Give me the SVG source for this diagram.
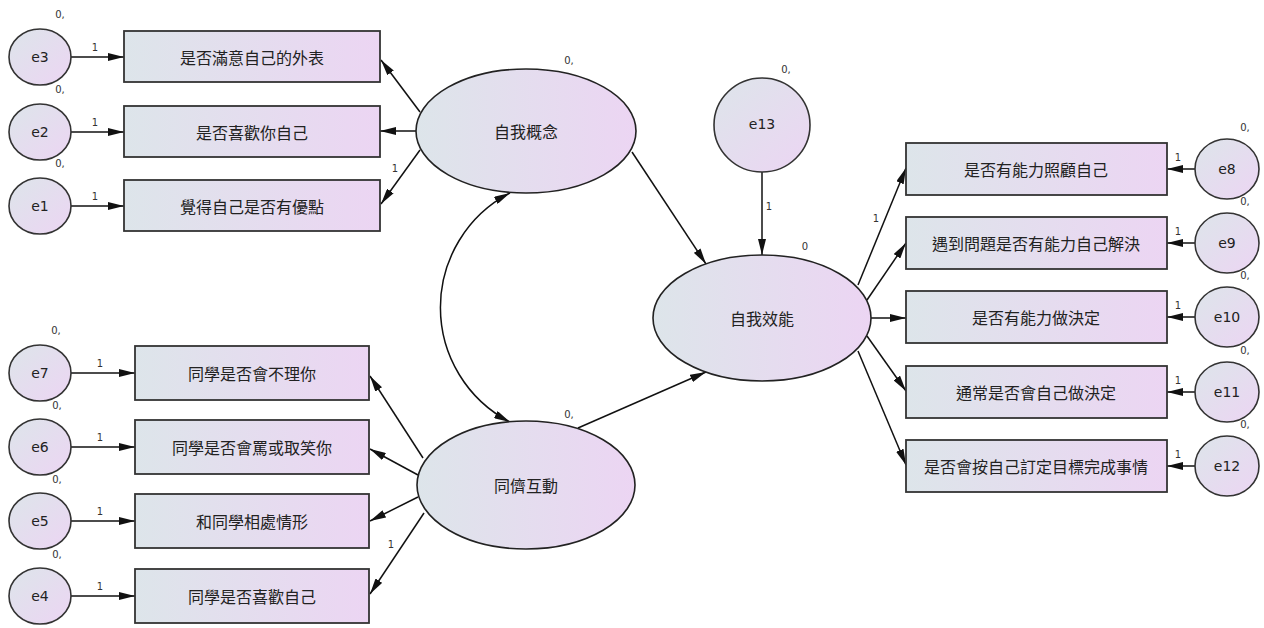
<svg xmlns="http://www.w3.org/2000/svg" width="1264" height="628" viewBox="0 0 1264 628">
<defs>
<linearGradient id="gh" x1="0" y1="0" x2="1" y2="0">
<stop offset="0" stop-color="#dde5ea"/>
<stop offset="1" stop-color="#ecd5f3"/>
</linearGradient>
<linearGradient id="gd" x1="0" y1="0" x2="1" y2="1">
<stop offset="0" stop-color="#dde5ea"/>
<stop offset="1" stop-color="#ecd5f3"/>
</linearGradient>
<marker id="ah" viewBox="0 0 16 8" refX="16" refY="4" markerWidth="16" markerHeight="8" markerUnits="userSpaceOnUse" orient="auto-start-reverse">
<path d="M0,0 L16,4 L0,8 z" fill="#111"/>
</marker>
</defs>
<style>
.box{fill:url(#gh);stroke:#333;stroke-width:1.8}
.lat{fill:url(#gh);stroke:#222;stroke-width:1.6}
.err{fill:url(#gd);stroke:#333;stroke-width:1.6}
.t{font-family:"Noto Sans CJK TC","Noto Sans CJK SC",sans-serif;font-size:16px;fill:#222;text-anchor:middle;dominant-baseline:central}
.te{font-family:"DejaVu Sans",Verdana,sans-serif;font-size:14px;fill:#222;text-anchor:middle;dominant-baseline:central}
.s{font-family:"DejaVu Sans",Verdana,sans-serif;font-size:10px;fill:#333;text-anchor:middle}
#edges line,#edges path{stroke:#111;stroke-width:1.5;fill:none;marker-end:url(#ah)}
</style>
<rect width="1264" height="628" fill="#fff"/>

<g id="edges">
<line x1="71" y1="57" x2="124" y2="57"/>
<line x1="71" y1="132" x2="124" y2="132"/>
<line x1="71" y1="206" x2="124" y2="206"/>
<line x1="71" y1="373" x2="135" y2="373"/>
<line x1="71" y1="447" x2="135" y2="447"/>
<line x1="71" y1="521" x2="135" y2="521"/>
<line x1="71" y1="596" x2="135" y2="596"/>
<line x1="1195" y1="169" x2="1167" y2="169"/>
<line x1="1195" y1="243" x2="1167" y2="243"/>
<line x1="1195" y1="317" x2="1167" y2="317"/>
<line x1="1195" y1="392" x2="1167" y2="392"/>
<line x1="1195" y1="466" x2="1167" y2="466"/>
<line x1="420" y1="112" x2="381" y2="60"/>
<line x1="416" y1="131" x2="380" y2="131"/>
<line x1="420" y1="150" x2="381" y2="204"/>
<line x1="423" y1="458" x2="370" y2="376"/>
<line x1="418" y1="475" x2="370" y2="449"/>
<line x1="418" y1="497" x2="370" y2="521"/>
<line x1="424" y1="513" x2="370" y2="594"/>
<line x1="858" y1="285" x2="906" y2="168"/>
<line x1="867" y1="300" x2="906" y2="243"/>
<line x1="871" y1="318" x2="906" y2="318"/>
<line x1="867" y1="336" x2="906" y2="391"/>
<line x1="858" y1="351" x2="906" y2="465"/>
<line x1="632" y1="152" x2="706" y2="264"/>
<line x1="578" y1="428" x2="706" y2="372"/>
<line x1="762" y1="172" x2="762" y2="255"/>
<path d="M510,193 A129,129 0 0 0 510,422" style="marker-start:url(#ah)"/>
<g class="s">
<text x="95" y="51">1</text>
<text x="95" y="126">1</text>
<text x="95" y="200">1</text>
<text x="100" y="367">1</text>
<text x="100" y="441">1</text>
<text x="100" y="515">1</text>
<text x="100" y="590">1</text>
<text x="1178" y="161">1</text>
<text x="1178" y="235">1</text>
<text x="1178" y="309">1</text>
<text x="1178" y="384">1</text>
<text x="1178" y="458">1</text>
<text x="395" y="172">1</text>
<text x="391" y="548">1</text>
<text x="876" y="222">1</text>
<text x="769" y="210">1</text>
</g>
</g>

<g id="e3"><ellipse class="err" cx="40" cy="57" rx="31" ry="28"/><text class="te" x="40" y="57">e3</text><text class="s" x="60" y="18">0,</text></g>
<g id="e2"><ellipse class="err" cx="40" cy="132" rx="31" ry="28"/><text class="te" x="40" y="132">e2</text><text class="s" x="60" y="93">0,</text></g>
<g id="e1"><ellipse class="err" cx="40" cy="206" rx="31" ry="28"/><text class="te" x="40" y="206">e1</text><text class="s" x="60" y="167">0,</text></g>
<g id="e7"><ellipse class="err" cx="40" cy="373" rx="31" ry="28"/><text class="te" x="40" y="373">e7</text><text class="s" x="56" y="334">0,</text></g>
<g id="e6"><ellipse class="err" cx="40" cy="447" rx="31" ry="28"/><text class="te" x="40" y="447">e6</text><text class="s" x="57" y="409">0,</text></g>
<g id="e5"><ellipse class="err" cx="40" cy="521" rx="31" ry="28"/><text class="te" x="40" y="521">e5</text><text class="s" x="57" y="483">0,</text></g>
<g id="e4"><ellipse class="err" cx="40" cy="596" rx="31" ry="28"/><text class="te" x="40" y="596">e4</text><text class="s" x="57" y="558">0,</text></g>

<g id="x3"><rect class="box" x="124" y="31" width="256" height="51"/><text class="t" x="252" y="57">是否滿意自己的外表</text></g>
<g id="x2"><rect class="box" x="124" y="106" width="256" height="51"/><text class="t" x="252" y="132">是否喜歡你自己</text></g>
<g id="x1"><rect class="box" x="124" y="180" width="256" height="51"/><text class="t" x="252" y="206">覺得自己是否有優點</text></g>
<g id="x7"><rect class="box" x="135" y="346" width="234" height="54"/><text class="t" x="252" y="373">同學是否會不理你</text></g>
<g id="x6"><rect class="box" x="135" y="420" width="234" height="54"/><text class="t" x="252" y="447">同學是否會罵或取笑你</text></g>
<g id="x5"><rect class="box" x="135" y="494" width="234" height="54"/><text class="t" x="252" y="521">和同學相處情形</text></g>
<g id="x4"><rect class="box" x="135" y="569" width="234" height="54"/><text class="t" x="252" y="596">同學是否喜歡自己</text></g>

<g id="selfconcept"><ellipse class="lat" cx="526" cy="131" rx="110" ry="62"/><text class="t" x="526" y="131">自我概念</text><text class="s" x="569" y="64">0,</text></g>
<g id="peer"><ellipse class="lat" cx="526" cy="485" rx="109" ry="64"/><text class="t" x="526" y="485">同儕互動</text><text class="s" x="569" y="418">0,</text></g>
<g id="efficacy"><ellipse class="lat" cx="762" cy="318" rx="109" ry="63"/><text class="t" x="762" y="318">自我效能</text><text class="s" x="805" y="250">0</text></g>
<g id="e13"><ellipse class="err" cx="762" cy="125" rx="48" ry="47"/><text class="te" x="762" y="124">e13</text><text class="s" x="786" y="73">0,</text></g>

<g id="y8"><rect class="box" x="906" y="143" width="261" height="52"/><text class="t" x="1036" y="169">是否有能力照顧自己</text></g>
<g id="y9"><rect class="box" x="906" y="217" width="261" height="52"/><text class="t" x="1036" y="243">遇到問題是否有能力自己解決</text></g>
<g id="y10"><rect class="box" x="906" y="291" width="261" height="52"/><text class="t" x="1036" y="317">是否有能力做決定</text></g>
<g id="y11"><rect class="box" x="906" y="366" width="261" height="52"/><text class="t" x="1036" y="392">通常是否會自己做決定</text></g>
<g id="y12"><rect class="box" x="906" y="440" width="261" height="52"/><text class="t" x="1036" y="466">是否會按自己訂定目標完成事情</text></g>

<g id="e8"><ellipse class="err" cx="1227" cy="169" rx="32" ry="30"/><text class="te" x="1227" y="169">e8</text><text class="s" x="1245" y="131">0,</text></g>
<g id="e9"><ellipse class="err" cx="1227" cy="243" rx="32" ry="30"/><text class="te" x="1227" y="243">e9</text><text class="s" x="1245" y="205">0,</text></g>
<g id="e10"><ellipse class="err" cx="1227" cy="317" rx="32" ry="30"/><text class="te" x="1227" y="317">e10</text><text class="s" x="1245" y="279">0,</text></g>
<g id="e11"><ellipse class="err" cx="1227" cy="392" rx="32" ry="30"/><text class="te" x="1227" y="392">e11</text><text class="s" x="1245" y="354">0,</text></g>
<g id="e12"><ellipse class="err" cx="1227" cy="466" rx="32" ry="30"/><text class="te" x="1227" y="466">e12</text><text class="s" x="1245" y="428">0,</text></g>
</svg>
